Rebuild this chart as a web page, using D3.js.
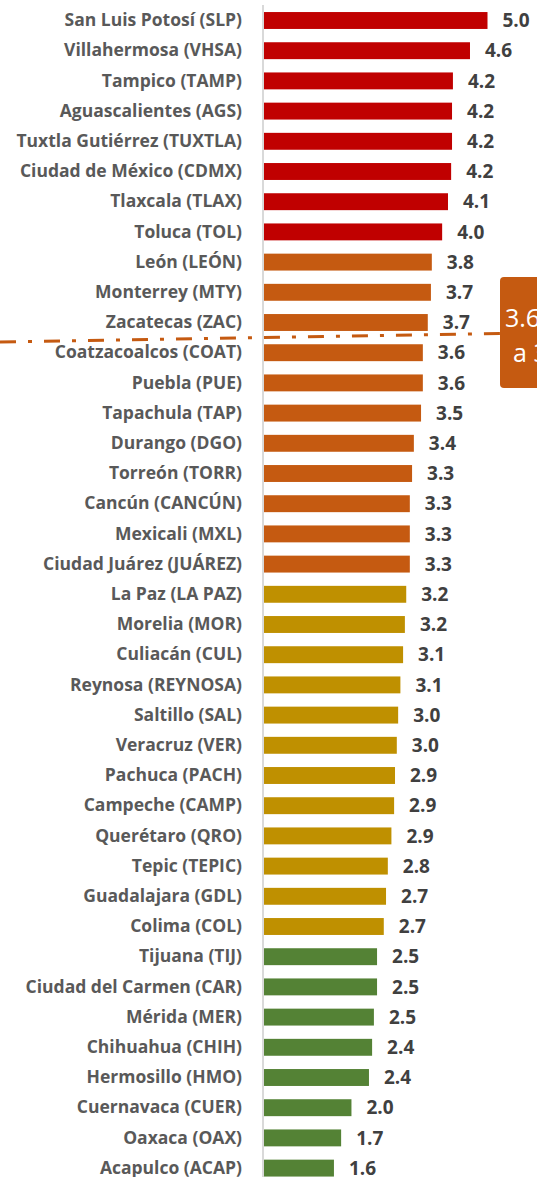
<!DOCTYPE html>
<html>
<head>
<meta charset="utf-8">
<script src="https://cdn.jsdelivr.net/npm/d3@7"></script>
<style>
  html, body { margin: 0; padding: 0; background: #fff; overflow: hidden; }
  svg { display: block; }
</style>
</head>
<body>
<div class="chartView"></div>
<script>
// --- data
var cities = [
  'San Luis Potosí (SLP)', 'Villahermosa (VHSA)', 'Tampico (TAMP)', 'Aguascalientes (AGS)',
  'Tuxtla Gutiérrez (TUXTLA)', 'Ciudad de México (CDMX)', 'Tlaxcala (TLAX)', 'Toluca (TOL)',
  'León (LEÓN)', 'Monterrey (MTY)', 'Zacatecas (ZAC)', 'Coatzacoalcos (COAT)', 'Puebla (PUE)',
  'Tapachula (TAP)', 'Durango (DGO)', 'Torreón (TORR)', 'Cancún (CANCÚN)', 'Mexicali (MXL)',
  'Ciudad Juárez (JUÁREZ)', 'La Paz (LA PAZ)', 'Morelia (MOR)', 'Culiacán (CUL)',
  'Reynosa (REYNOSA)', 'Saltillo (SAL)', 'Veracruz (VER)', 'Pachuca (PACH)', 'Campeche (CAMP)',
  'Querétaro (QRO)', 'Tepic (TEPIC)', 'Guadalajara (GDL)', 'Colima (COL)', 'Tijuana (TIJ)',
  'Ciudad del Carmen (CAR)', 'Mérida (MER)', 'Chihuahua (CHIH)', 'Hermosillo (HMO)',
  'Cuernavaca (CUER)', 'Oaxaca (OAX)', 'Acapulco (ACAP)'
];
var values = [
  5.00, 4.61, 4.23, 4.21, 4.21, 4.19, 4.12, 3.99,
  3.76, 3.74, 3.67, 3.56, 3.56, 3.52, 3.36, 3.32, 3.27, 3.27, 3.27,
  3.19, 3.16, 3.12, 3.06, 3.01, 2.98, 2.94, 2.92, 2.86, 2.78, 2.74, 2.69,
  2.54, 2.54, 2.47, 2.43, 2.36, 1.97, 1.74, 1.58
];
// colour group of each bar: 0 red, 1 orange, 2 gold, 3 green
var groups = [
  0, 0, 0, 0, 0, 0, 0, 0,
  1, 1, 1, 1, 1, 1, 1, 1, 1, 1, 1,
  2, 2, 2, 2, 2, 2, 2, 2, 2, 2, 2, 2,
  3, 3, 3, 3, 3, 3, 3, 3
];
var groupColors = ['#C00000', '#C55A11', '#BF9000', '#548235'];
var calloutLines = ['3.6', 'a 3.3'];

var data = cities.map(function(c, i) {
  return { name: c, value: values[i], group: groups[i] };
});

var width = 537, height = 1177;

var svg = d3.select('.chartView').append('svg')
  .attr('width', width)
  .attr('height', height);

var x = d3.scaleLinear().domain([0, 5]).range([263, 487.5]);
var y = d3.scaleBand()
  .domain(cities)
  .range([5.4, 5.4 + 39 * 30.2])
  .paddingInner(0.44)
  .paddingOuter(0.22);

//bars
svg.selectAll('rect.bar')
  .data(data)
  .enter()
  .append('rect')
  .attr('class', 'bar')
  .attr('x', x(0) + 1)
  .attr('y', function(d) { return y(d.name); })
  .attr('width', function(d) { return x(d.value) - x(0) - 1; })
  .attr('height', y.bandwidth())
  .attr('fill', function(d) { return groupColors[d.group]; });

//category axis, labels only plus the light vertical line
var yAxis = d3.axisLeft(y).tickSize(0).tickPadding(21);
var gAxis = svg.append('g')
  .attr('transform', 'translate(' + x(0) + ',0)')
  .call(yAxis);
gAxis.select('.domain').remove();
gAxis.selectAll('text')
  .attr('fill', '#595959')
  .style('font-family', '"Open Sans", sans-serif')
  .style('font-weight', 'bold')
  .style('font-size', '17.5px');

svg.append('line')
  .attr('x1', x(0)).attr('x2', x(0))
  .attr('y1', 5).attr('y2', height)
  .attr('stroke', '#D9D9D9')
  .attr('stroke-width', 2);

//value labels
svg.selectAll('text.val')
  .data(data)
  .enter()
  .append('text')
  .attr('class', 'val')
  .attr('x', function(d) { return x(d.value) + 15; })
  .attr('y', function(d) { return y(d.name) + y.bandwidth() / 2; })
  .attr('dy', '0.35em')
  .attr('fill', '#404040')
  .style('font-family', '"Open Sans", sans-serif')
  .style('font-weight', 'bold')
  .style('font-size', '19px')
  .text(function(d) { return d.value.toFixed(1); });

//dash-dot threshold line and callout box
svg.append('line')
  .attr('x1', 0).attr('y1', 342)
  .attr('x2', 500).attr('y2', 333.5)
  .attr('stroke', '#C55A11')
  .attr('stroke-width', 3)
  .attr('stroke-dasharray', '16 12 4 12');

svg.append('rect')
  .attr('x', 500).attr('y', 277)
  .attr('width', 80).attr('height', 111)
  .attr('rx', 4)
  .attr('fill', '#C55A11');

svg.selectAll('text.callout')
  .data(calloutLines)
  .enter()
  .append('text')
  .attr('class', 'callout')
  .attr('x', function(d, i) { return i === 0 ? 505 : 513; })
  .attr('y', function(d, i) { return 327 + i * 35; })
  .attr('fill', '#fff')
  .style('font-family', '"Open Sans", sans-serif')
  .style('font-size', '25px')
  .text(function(d) { return d; });
</script>
</body>
</html>
